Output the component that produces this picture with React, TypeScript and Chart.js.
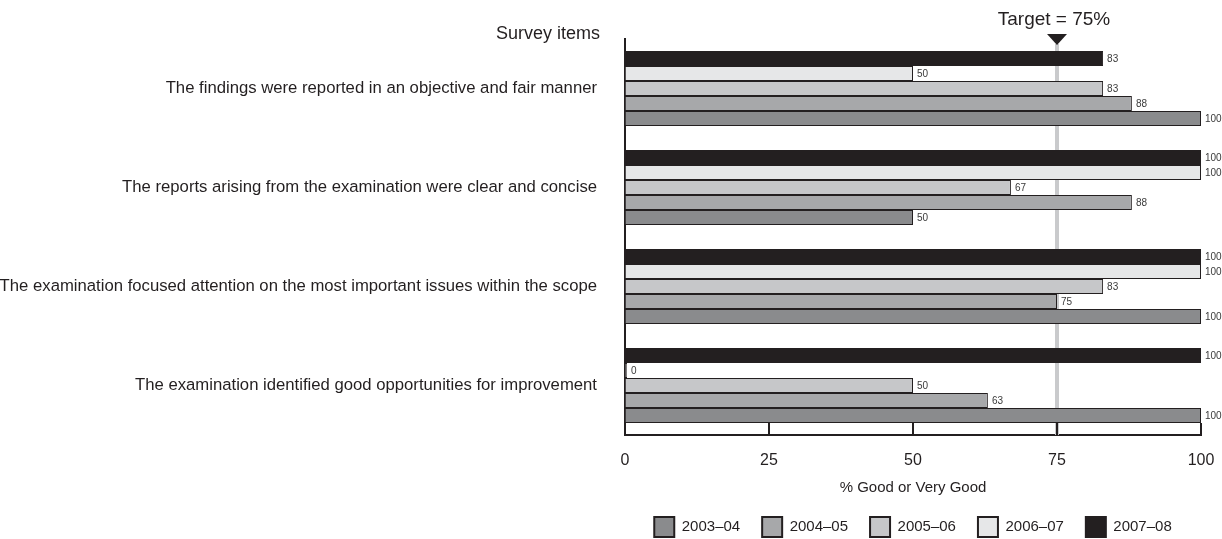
import React, { useEffect, useRef } from "react";
import { Chart, registerables } from "chart.js";

Chart.register(...registerables);

const FONT = '"Liberation Sans", Arial, sans-serif';
const INK = "#231f20";

// ---- data ----
const categories = [
  "The findings were reported in an objective and fair manner",
  "The reports arising from the examination were clear and concise",
  "The examination focused attention on the most important issues within the scope",
  "The examination identified good opportunities for improvement",
];
const years = ["2003–04", "2004–05", "2005–06", "2006–07", "2007–08"];
const values2003_04 = [100, 50, 100, 100];
const values2004_05 = [88, 88, 75, 63];
const values2005_06 = [83, 67, 83, 50];
const values2006_07 = [50, 100, 100, 0];
const values2007_08 = [83, 100, 100, 100];
const yearFills = ["#8a8b8d", "#a7a8aa", "#c6c7c9", "#e6e7e8", "#231f20"];
const xTicks = [0, 25, 50, 75, 100];
const targetValue = 75;
const targetLabel = "Target = 75%";
const axisTitle = "% Good or Very Good";
const itemsTitle = "Survey items";

const seriesByYear = [values2003_04, values2004_05, values2005_06, values2006_07, values2007_08];

const decorPlugin = {
  id: "decor",
  beforeDatasetsDraw(chart: any) {
    const { ctx, chartArea, scales } = chart;
    const px = scales.x.getPixelForValue(targetValue);
    ctx.save();
    ctx.strokeStyle = "#c9cacc";
    ctx.lineWidth = 4;
    ctx.beginPath();
    ctx.moveTo(px, chartArea.top + 5);
    ctx.lineTo(px, chartArea.bottom);
    ctx.stroke();
    ctx.restore();
  },
  afterDatasetsDraw(chart: any) {
    const { ctx, chartArea, scales } = chart;
    ctx.save();
    // value labels
    ctx.font = `10px ${FONT}`;
    ctx.fillStyle = "#3a3a3a";
    ctx.textAlign = "left";
    ctx.textBaseline = "middle";
    chart.data.datasets.forEach((ds: any, di: number) => {
      const meta = chart.getDatasetMeta(di);
      meta.data.forEach((bar: any, i: number) => {
        const v = ds.data[i];
        ctx.fillText(String(v), bar.x + 4, bar.y + 1);
      });
    });
    // inside tick marks on the x axis
    ctx.strokeStyle = INK;
    ctx.lineWidth = 2;
    xTicks.forEach((t) => {
      const px = Math.round(scales.x.getPixelForValue(t));
      ctx.beginPath();
      ctx.moveTo(px, chartArea.bottom - 12);
      ctx.lineTo(px, chartArea.bottom);
      ctx.stroke();
    });
    ctx.restore();
  },
  afterDraw(chart: any) {
    const { ctx, chartArea, scales } = chart;
    const px = scales.x.getPixelForValue(targetValue);
    ctx.save();
    // triangle marker
    ctx.fillStyle = INK;
    ctx.beginPath();
    ctx.moveTo(px - 10, chartArea.top - 5);
    ctx.lineTo(px + 10, chartArea.top - 5);
    ctx.lineTo(px, chartArea.top + 6);
    ctx.closePath();
    ctx.fill();
    // target label
    ctx.font = `19px ${FONT}`;
    ctx.textAlign = "center";
    ctx.textBaseline = "alphabetic";
    ctx.fillText(targetLabel, px - 3, chartArea.top - 14);
    // survey items heading
    ctx.font = `18px ${FONT}`;
    ctx.textAlign = "right";
    ctx.fillText(itemsTitle, chartArea.left - 25, chartArea.top);
    ctx.restore();
  },
};

export default function App() {
  const canvasRef = useRef<HTMLCanvasElement | null>(null);

  useEffect(() => {
    if (!canvasRef.current) return;
    const order = [4, 3, 2, 1, 0]; // top-to-bottom within each group: 2007–08 ... 2003–04
    const datasets = order.map((k) => ({
      label: years[k],
      data: seriesByYear[k],
      backgroundColor: yearFills[k],
      borderColor: INK,
      borderWidth: 1,
      borderSkipped: "start" as const,
      minBarLength: 2,
      categoryPercentage: 0.758,
      barPercentage: 1.0,
    }));

    const chart = new Chart(canvasRef.current, {
      type: "bar",
      data: { labels: categories, datasets },
      options: {
        indexAxis: "y",
        animation: false,
        responsive: true,
        maintainAspectRatio: false,
        layout: { padding: { left: 0, right: 21, top: 39, bottom: -8 } },
        scales: {
          x: {
            type: "linear",
            min: 0,
            max: 100,
            z: 1,
            grid: {
              display: true,
              drawOnChartArea: false,
              drawTicks: true,
              tickLength: 16,
              color: "rgba(0,0,0,0)",
              tickColor: "rgba(0,0,0,0)",
            },
            border: { display: true, color: INK, width: 2 },
            afterBuildTicks: (s: any) => {
              s.ticks = xTicks.map((v) => ({ value: v }));
            },
            ticks: {
              color: INK,
              font: { family: FONT, size: 16 },
              padding: 0,
            },
            title: {
              display: true,
              text: axisTitle,
              color: INK,
              font: { family: FONT, size: 15 },
              padding: { top: 0, bottom: -2 },
            },
            afterFit: (s: any) => {
              s.height = 60;
            },
          },
          y: {
            type: "category",
            z: 1,
            grid: { display: false },
            border: { display: true, color: INK, width: 2 },
            ticks: {
              color: INK,
              font: { family: FONT, size: 16.7 },
              padding: 20,
              autoSkip: false,
            },
            afterFit: (s: any) => {
              s.width = 625;
            },
          },
        },
        plugins: {
          tooltip: { enabled: false },
          legend: {
            position: "bottom",
            fullSize: false,
            reverse: true,
            labels: {
              boxWidth: 20,
              boxHeight: 20,
              padding: 22,
              color: INK,
              font: { family: FONT, size: 15 },
              generateLabels: (c: any) =>
                (Chart.defaults.plugins.legend.labels as any)
                  .generateLabels(c)
                  .map((l: any) => ({ ...l, lineWidth: 2, strokeStyle: INK })),
            },
          },
        },
      },
      plugins: [decorPlugin],
    });
    return () => chart.destroy();
  }, []);

  return (
    <div style={{ position: "absolute", left: 0, top: 0, width: 1222, height: 539, background: "#fff" }}>
      <canvas ref={canvasRef} />
    </div>
  );
}
